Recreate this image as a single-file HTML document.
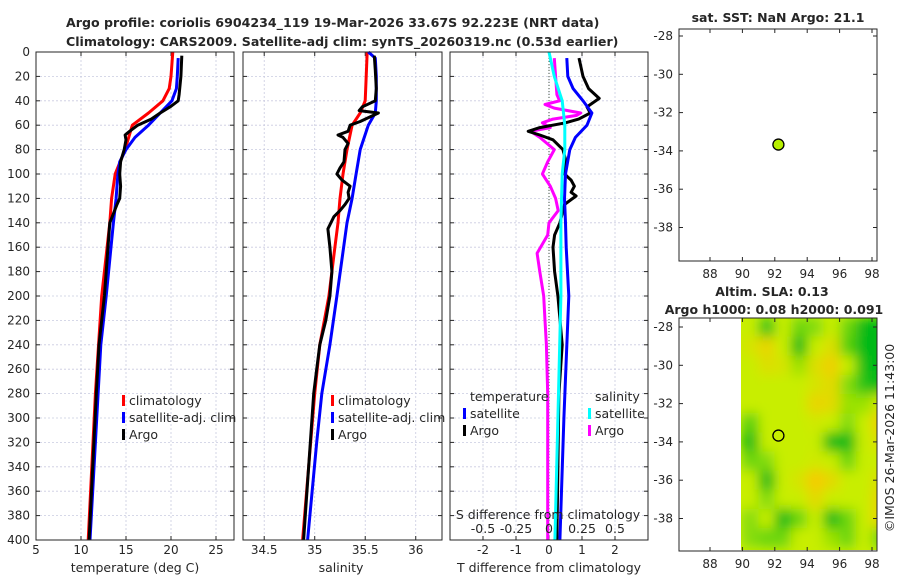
<!DOCTYPE html>
<html><head><meta charset="utf-8"><style>
body{margin:0;background:#fff}
svg text{font-family:"DejaVu Sans","Liberation Sans",sans-serif;fill:#262626}
</style></head><body>
<svg id="c" width="900" height="580" viewBox="0 0 900 580" xmlns="http://www.w3.org/2000/svg">
<defs>
<filter id="blur" filterUnits="userSpaceOnUse" x="720" y="300" width="180" height="270"><feGaussianBlur stdDeviation="6"/></filter>
<clipPath id="mapclip"><rect x="741" y="318" width="136" height="232"/></clipPath>
</defs>
<g id="root"></g>
</svg>
<script>
// ---- data ----
const depthTClim=[0,10,20,30,40,50,60,80,100,120,140,200,280,400];
const tClim=[20.2,20.1,20.0,19.8,19.1,17.5,15.7,14.9,13.8,13.4,13.2,12.3,11.6,10.8];
const depthTSat=[5,20,30,40,50,60,70,80,90,100,120,140,200,240,280,400];
const tSat=[20.8,20.7,20.6,20.1,18.8,17.5,16.0,15.0,14.3,14.1,13.9,13.6,12.8,12.2,11.9,11.0];
const depthTArgo=[3,20,35,40,45,50,55,60,65,68,72,80,90,100,110,120,125,140,200,240,280,400];
const tArgo=[21.2,21.1,20.9,20.8,19.9,18.8,17.8,16.3,15.4,14.9,15.0,14.8,14.4,14.3,14.4,14.3,14.0,13.2,12.6,12.0,11.7,10.9];

const depthSClim=[0,40,50,60,80,100,120,140,160,200,240,280,400];
const sClim=[35.52,35.50,35.45,35.37,35.32,35.28,35.25,35.23,35.20,35.14,35.05,35.00,34.88];
const depthSSat=[0,5,20,40,50,60,80,100,120,140,200,240,280,320,400];
const sSat=[35.53,35.60,35.61,35.61,35.60,35.53,35.45,35.41,35.37,35.32,35.22,35.15,35.07,35.02,34.93];
const depthSArgo=[3,15,30,40,45,48,50,53,57,60,65,68,70,75,80,90,95,100,105,110,115,120,125,130,135,145,160,180,200,220,240,260,280,400];
const sArgo=[35.59,35.60,35.61,35.60,35.47,35.44,35.63,35.55,35.45,35.35,35.33,35.23,35.28,35.33,35.30,35.29,35.25,35.22,35.27,35.35,35.33,35.34,35.30,35.25,35.19,35.13,35.15,35.17,35.15,35.11,35.05,35.02,34.99,34.89];

const depthDT=[5,20,30,40,50,60,70,80,100,120,140,160,200,300,400];
const dTSat=[0.54,0.57,0.73,1.03,1.30,1.15,0.80,0.63,0.50,0.47,0.50,0.52,0.60,0.45,0.33];
const depthDTArgo=[5,20,30,38,45,50,55,58,62,65,68,72,80,90,100,105,110,115,118,120,125,140,150,160,180,200,240,280,400];
const dTArgo=[0.91,1.03,1.2,1.52,1.15,1.25,0.9,0.5,-0.28,-0.63,-0.28,0.12,0.42,0.52,0.47,0.67,0.77,0.67,0.82,0.72,0.47,0.33,0.17,0.12,0.17,0.27,0.4,0.3,0.24];
const depthDS=[0,20,40,60,80,100,140,200,400];
const dSSat=[0.0,0.04,0.10,0.12,0.12,0.10,0.09,0.09,0.045];
const depthDSArgo=[5,20,35,40,43,46,50,52,55,58,62,65,70,80,90,100,110,120,130,140,150,165,180,200,220,240,280,400];
const dSArgo=[0.04,0.05,0.06,0.08,-0.03,0.04,0.24,0.21,0.03,-0.05,0.01,-0.14,-0.07,0.04,-0.01,-0.05,0.01,0.05,0.07,0.0,-0.01,-0.09,-0.07,-0.04,-0.03,-0.02,-0.01,-0.01];

const depthTicks=[0,20,40,60,80,100,120,140,160,180,200,220,240,260,280,300,320,340,360,380,400];
const tTicks=[5,10,15,20,25];
const sTicks=[34.5,35,35.5,36];
const dTTicks=[-2,-1,0,1,2];
const dSTicks=[-0.5,-0.25,0,0.25,0.5];
const dSTickLabels=["-0.5","-0.25","0","0.25","0.5"];
const lonTicks=[88,90,92,94,96,98];
const latTicks=[-28,-30,-32,-34,-36,-38];
const argoLon=92.223, argoLat=-33.67;
// SLA grid: rows lat -28..-39, cols lon 90.5..98.5
const slaLats=[-28,-29,-30,-31,-32,-33,-34,-35,-36,-37,-38,-39];
const slaLons=[90.5,91.5,92.5,93.5,94.5,95.5,96.5,97.5,98.5];
const slaGrid=[
[0,-0.7,0,-0.4,-0.3,0,-0.4,-1,-1],
[0.2,0.5,0,-1,0,0.3,-0.5,-1,-1],
[0,0.3,0.2,-0.2,0.3,0.6,0,-0.8,-0.9],
[0,0,0,0,0.2,0.4,-0.3,-0.7,-1],
[0,0,0,0,0.5,0.4,-0.2,-0.2,0.1],
[-0.5,0,0,0,0.1,0,-0.3,0,0.6],
[-1,0,0,0,0,-0.9,-1,0,0.3],
[-0.4,-0.3,0,0,0.1,0,-0.4,0,0],
[0,-1,0,0.2,0.7,0.4,0,0,0.3],
[0,-0.3,0,0,0.4,0,0,0,0.5],
[-0.3,0,-1,-0.4,0,-1,-0.4,0,0.5],
[-0.3,-0.4,-0.4,0,0,-0.2,-0.4,0,-0.4]];

// ---- helpers ----
const NS="http://www.w3.org/2000/svg";
const root=document.getElementById('root');
function mk(tag,attrs,parent){const e=document.createElementNS(NS,tag);for(const k in attrs)e.setAttribute(k,attrs[k]);(parent||root).appendChild(e);return e;}
function txt(x,y,s,anchor,size,weight,parent){const t=mk('text',{x:x,y:y,'text-anchor':anchor||'middle','font-size':size||12,'font-weight':weight||'normal'},parent);t.textContent=s;return t;}

const PT=52,PB=540;
const yD=d=>PT+d*(PB-PT)/400;
const panels=[
 {name:'temperature',x0:36,x1:234,min:5,max:27},
 {name:'salinity',x0:243,x1:442,min:34.29,max:36.26},
 {name:'difference',x0:450,x1:648,min:-3,max:3}];
const sx=(p,v)=>p.x0+(v-p.min)*(p.x1-p.x0)/(p.max-p.min);
const xDS=v=>sx(panels[2],v*4);

function panelFrame(p,ticks,tickLabels,showY){
  const g=mk('g',{});
  
  
  depthTicks.forEach(d=>{
    const l=mk('line',{x1:p.x0,x2:p.x1,y1:yD(d),y2:yD(d),stroke:'#c9cbe0','stroke-width':0.8,'stroke-dasharray':'2,2'},g);
    
    
    mk('line',{x1:p.x0,x2:p.x0+4,y1:yD(d),y2:yD(d),stroke:'#262626'},g);
    mk('line',{x1:p.x1,x2:p.x1-4,y1:yD(d),y2:yD(d),stroke:'#262626'},g);
    if(showY){const t=txt(30,yD(d)+4,String(d),'end',12,'normal',g);}
  });
  ticks.forEach((v,i)=>{
    const x=sx(p,v);
    const l=mk('line',{x1:x,x2:x,y1:PT,y2:PB,stroke:'#c9cbe0','stroke-width':0.8,'stroke-dasharray':'2,2'},g);
    
    
    mk('line',{x1:x,x2:x,y1:PB,y2:PB-4,stroke:'#262626'},g);
    mk('line',{x1:x,x2:x,y1:PT,y2:PT+4,stroke:'#262626'},g);
    const t=txt(x,554,tickLabels[i],'middle',12,'normal',g);
    
    
  });
  return g;
}
function line(xs,ds,xf,color,w,name,g){
  const pts=xs.map((v,i)=>xf(v).toFixed(1)+','+yD(ds[i]).toFixed(1)).join(' ');
  const l=mk('polyline',{points:pts,fill:'none',stroke:color,'stroke-width':w,'stroke-linejoin':'round'},g);
  
  
  return l;
}
function border(x0,y0,x1,y1){mk('rect',{x:x0,y:y0,width:x1-x0,height:y1-y0,fill:'none',stroke:'#262626','stroke-width':1});}

// titles
let t=txt(66,27,'Argo profile: coriolis 6904234_119 19-Mar-2026 33.67S 92.223E (NRT data)','start',12.6,'bold');

t=txt(66,46,'Climatology: CARS2009. Satellite-adj clim: synTS_20260319.nc (0.53d earlier)','start',12.6,'bold');


// panel 1
let p=panels[0];
let g=panelFrame(p,tTicks,tTicks.map(String),true);
line(tClim,depthTClim,v=>sx(p,v),'#ff0000',3,'temp-climatology-line',g);
line(tSat,depthTSat,v=>sx(p,v),'#0000ff',3,'temp-satellite-line',g);
line(tArgo,depthTArgo,v=>sx(p,v),'#000000',3,'temp-argo-line',g);
border(p.x0,PT,p.x1,PB);
t=txt(135,572,'temperature (deg C)','middle',12.5);

// panel 2
p=panels[1];
g=panelFrame(p,sTicks,sTicks.map(String),false);
line(sClim,depthSClim,v=>sx(p,v),'#ff0000',3,'sal-climatology-line',g);
line(sSat,depthSSat,v=>sx(p,v),'#0000ff',3,'sal-satellite-line',g);
line(sArgo,depthSArgo,v=>sx(p,v),'#000000',3,'sal-argo-line',g);
border(p.x0,PT,p.x1,PB);
t=txt(341,572,'salinity','middle',12.5);

// panel 3
p=panels[2];
g=panelFrame(p,dTTicks,dTTicks.map(String),false);
const zl=mk('line',{x1:sx(p,0),x2:sx(p,0),y1:PT,y2:PB,stroke:'#445544','stroke-width':1,'stroke-dasharray':'1,2'},g);

line(dSArgo,depthDSArgo,xDS,'#ff00ff',3,'sdiff-argo-line',g);
line(dTArgo,depthDTArgo,v=>sx(p,v),'#000000',3,'tdiff-argo-line',g);
line(dTSat,depthDT,v=>sx(p,v),'#0000ff',3,'tdiff-satellite-line',g);
line(dSSat,depthDS,xDS,'#00ffff',3,'sdiff-satellite-line',g);
border(p.x0,PT,p.x1,PB);
t=txt(548,519,'S difference from climatology','middle',12.5);
dSTicks.forEach((v,i)=>{const tt=txt(xDS(v),533,dSTickLabels[i],'middle',12.5);});
t=txt(549,572,'T difference from climatology','middle',12.5);

// legends
function legend(x,y,items,name){
  const lg=mk('g',{});
  
  
  items.forEach((it,i)=>{
    if(it[0]){mk('rect',{x:x,y:y+i*17-10,width:3,height:11,fill:it[0]},lg);}
    txt(x+7,y+i*17,it[1],'start',12.5,'normal',lg);
  });
}
legend(122,405,[['#ff0000','climatology'],['#0000ff','satellite-adj. clim'],['#000000','Argo']],'temp-legend');
legend(331,405,[['#ff0000','climatology'],['#0000ff','satellite-adj. clim'],['#000000','Argo']],'sal-legend');
legend(463,401,[[null,'temperature'],['#0000ff','satellite'],['#000000','Argo']],'tdiff-legend');
legend(588,401,[[null,'salinity'],['#00ffff','satellite'],['#ff00ff','Argo']],'sdiff-legend');

// map helpers
function mapAxes(top,bottom,latRef){
  const x0=679,x1=877;
  const lx=lon=>710+(lon-88)*16.2;
  const ly=lat=>latRef+(-28-lat)*19.15;
  return {x0,x1,top,bottom,lx,ly};
}
function mapFrame(m,name){
  const gg=mk('g',{});
  
  
  latTicks.forEach(la=>{
    const y=m.ly(la);
    mk('line',{x1:m.x0,x2:m.x0+4,y1:y,y2:y,stroke:'#262626'},gg);
    mk('line',{x1:m.x1,x2:m.x1-4,y1:y,y2:y,stroke:'#262626'},gg);
    txt(m.x0-6,y+4,String(la),'end',12,'normal',gg);
  });
  lonTicks.forEach(lo=>{
    const x=m.lx(lo);
    mk('line',{x1:x,x2:x,y1:m.bottom,y2:m.bottom-4,stroke:'#262626'},gg);
    mk('line',{x1:x,x2:x,y1:m.top,y2:m.top+4,stroke:'#262626'},gg);
    txt(x,m.bottom+17,String(lo),'middle',12,'normal',gg);
  });
  return gg;
}
// map 1
const m1=mapAxes(29,261,36);
mapFrame(m1,'sst-map');
border(m1.x0,m1.top,m1.x1,m1.bottom);
let c=mk('circle',{cx:m1.lx(argoLon),cy:m1.ly(argoLat),r:5.5,fill:'#b8f000',stroke:'#000','stroke-width':1.3});

t=txt(778,22,'sat. SST: NaN Argo: 21.1','middle',12.5,'bold');

// map 2
const m2=mapAxes(318,551,327);
const hm=mk('g',{'clip-path':'url(#mapclip)'});


mk('rect',{x:741,y:318,width:136,height:233,fill:'#c8ee00'},hm);
const blurG=mk('g',{filter:'url(#blur)'},hm);
function slaColor(v){
  if(v<0){const f=Math.min(1,-v*1.15);const r=Math.round(200*(1-f)),gg=Math.round(238-(238-185)*f),b=Math.round(25*f);return `rgb(${r},${gg},${b})`;}
  const f=Math.min(1,v*1.3);const r=Math.round(200+(250-200)*f),gg=Math.round(238-(238-200)*f);return `rgb(${r},${gg},0)`;
}
slaLats.forEach((la,i)=>{slaLons.forEach((lo,j)=>{
  const x=m2.lx(lo-0.5),y=m2.ly(la+0.5);
  const cell=mk('rect',{x:x,y:y,width:16.4,height:19.4,fill:slaColor(slaGrid[i][j])},blurG);
  
  
});});
mapFrame(m2,'sla-map');
border(m2.x0,m2.top,m2.x1,m2.bottom);
c=mk('circle',{cx:m2.lx(argoLon),cy:m2.ly(argoLat),r:5.5,fill:'none',stroke:'#000','stroke-width':1.3});

t=txt(772,296,'Altim. SLA: 0.13','middle',12.5,'bold');
t=txt(774,314,'Argo h1000: 0.08 h2000: 0.091','middle',12.5,'bold');

t=txt(0,0,'©IMOS 26-Mar-2026 11:43:00','middle',12.5);
t.setAttribute('transform','translate(894,438) rotate(-90)');

</script>
</body></html>
